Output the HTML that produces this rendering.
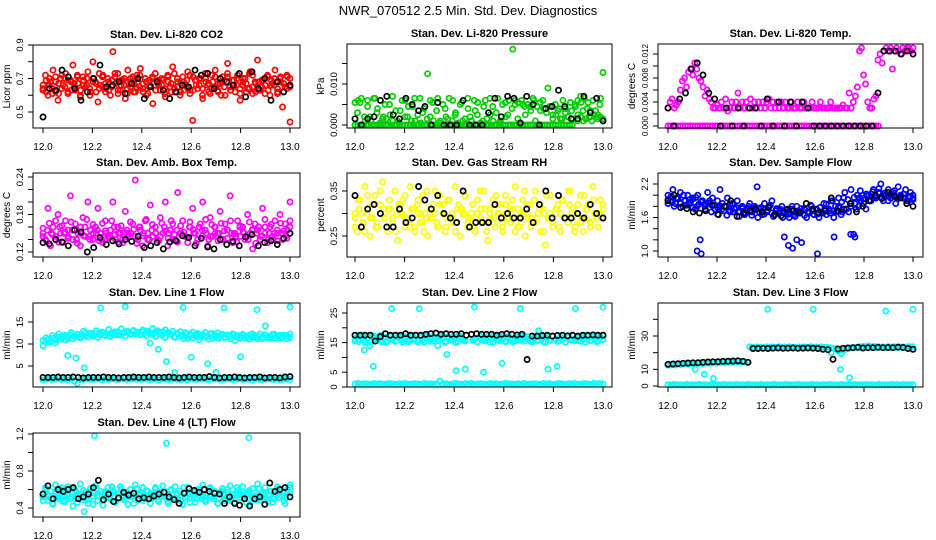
<!DOCTYPE html>
<html><head><meta charset="utf-8"><style>
html,body{margin:0;padding:0;background:#fff;}
svg{display:block;font-family:"Liberation Sans",sans-serif;}
</style></head><body>
<svg id="chart" width="936" height="540" viewBox="0 0 936 540">
<text x="468" y="15" text-anchor="middle" font-size="13">NWR_070512  2.5 Min. Std. Dev. Diagnostics</text>
</svg>
<script>
// ---------- data ----------
const xTicks = [12.0,12.2,12.4,12.6,12.8,13.0];
const xTickLabels = ["12.0","12.2","12.4","12.6","12.8","13.0"];

const co2Main = [.64,.72,.60,.68,.75,.62,.57,.70,.66,.73,.61,.69,.78,.63,.67,.59,.71,.65,.74,.62,.80,.68,.56,.66,.72,.64,.70,.60,.86,.67,.73,.63,.69,.58,.75,.65,.71,.62,.68,.76,.64,.70,.61,.66,.55,.73,.67,.63,.69,.59,.72,.65,.77,.62,.68,.60,.71,.66,.74,.63,.45,.69,.64,.70,.58,.73,.66,.61,.68,.75,.63,.67,.71,.60,.79,.65,.69,.62,.72,.57,.66,.70,.64,.74,.61,.68,.81,.63,.69,.66,.72,.60,.67,.75,.62,.70,.53,.65,.71,.44];
const co2Band = [.66,.62,.7,.64,.68,.61,.72,.65,.69,.63,.67,.71,.6,.66,.7,.64,.68,.62,.73,.65,.67,.63,.69,.71,.61,.66,.7,.64,.68,.62,.72,.65,.67,.6,.69,.71,.63,.66,.7,.64,.68,.62,.73,.65,.67,.63,.69,.61,.71,.66,.7,.64,.68,.62,.72,.65,.67,.6,.69,.71,.63,.66,.7,.64,.68,.62,.73,.65,.67,.63,.69,.61,.71,.66,.7,.64,.68,.62,.72,.65];
const co2Band2 = [.63,.69,.66,.61,.71,.67,.64,.7,.62,.68,.65,.72,.63,.69,.66,.6,.7,.67,.64,.71,.62,.68,.65,.73,.63,.69,.66,.61,.7,.67,.64,.72,.62,.68,.65,.7,.63,.69,.66,.61,.71,.67,.64,.7,.62,.68,.65,.72,.63,.69,.66,.6,.7,.67,.64,.71,.62,.68,.65,.73,.63,.69,.66,.61,.7,.67,.64,.72,.62,.68,.65,.7,.63,.69,.66,.61,.71,.67,.64,.7];
const co2Black = [.47,.64,.63,.75,.71,.64,.57,.62,.70,.78,.65,.66,.68,.61,.67,.70,.58,.65,.68,.63,.58,.62,.66,.65,.75,.72,.73,.64,.70,.68,.66,.73,.59,.74,.64,.70,.57,.68,.62,.66];

const pressMain = [0,.003,.0055,0,.001,.006,.002,0,.0065,.004,0,.0015,.005,0,.0025,.007,0,.001,.0035,0,.006,.002,0,.0045,.001,0,.0065,.003,0,.0125,.002,.0055,0,.0065,.001,0,.004,.0015,0,.006,.0025,0,.005,.001,0,.0065,.002,0,.0035,.0055,0,.001,.006,0,.0025,.0045,0,.0065,.001,0,.0055,.0025,0,.0185,.006,.0015,0,.005,.0025,0,.0045,.0065,.001,0,.0035,.006,.004,.009,.0045,.0025,.005,.0035,.0015,.006,.004,.002,.0055,.0015,.0045,.0025,.007,.0035,.0015,.0055,.002,.006,.0035,.0025,.0065,.0128];
const pressBand = [.0055,.006,.0065,.002,.0045,.001,.0065,.003,.0005,.002,.0015,.005,.001,.0035,.0005,.006,.002,.0045,.001,.0065,.0025,.0005,.004,.0015,.006,.001,.0035,.0005,.005,.002,.0065,.001,.003,.0005,.0055,.0015,.004,.001,.006,.0025,.0005,.0045,.0015,.0065,.001,.003,.0005,.005,.002,.006,.004,.005,.0055,.006,.0045,.005,.0035,.006,.0045,.0055,.004,.003,.0045,.0015,.0025,.004,.0015,.003,.002,.0035,.005,.006,.0055,.0065,.004,.0035,.0025,.002,.005,.0015];
const pressZero = [0,0,0,0,0,0,0,0,0,0,0,0,0,0,0,0,0,0,0,0,0,0,0,0,0,0,0,0,0,0,0,0,0,0,0,0,0,0,0,0,0,0,0,0,0,0,0,0,0,0,0,0,0,0,0,0,0,0,0,0,0,0,0,0,0,0,0,0,0,0,0,0,0,0,0,0,0,0,0,null,.001,.002,.001,.0015,.002,.001,.0025,.0015,.002,.001];
const pressBlack = [.0015,0,.0015,.002,.006,.007,.0025,.0015,.0065,.005,.0035,.0045,0,.0055,0,0,0,.006,0,0,0,.003,.0065,.002,.007,.0065,.0005,.007,.005,0,.004,.0045,.0085,.0045,.0015,.0015,.007,.003,.0065,.001];

const tempMain = [.003,.004,.0045,.003,.0035,.004,.006,.0075,.008,.0065,.009,.0095,.0085,.0105,.0095,.008,.0075,.0065,.005,.006,.0045,.004,.003,.003,.0035,.003,.004,.003,.0045,.0025,.003,.004,.003,.004,.0055,.003,.004,.003,.004,.003,.0045,.003,.004,.003,.004,.003,.004,.003,.004,.0045,.003,.004,.003,.004,.003,.004,.003,.004,.003,.003,.004,.003,.003,.004,.003,.003,.004,.003,.003,.003,.004,.003,.003,.003,.004,.003,.003,.003,.003,.004,.003,.003,.003,.003,.003,.0035,.003,.003,.0055,.003,.004,.005,.0065,.0125,.013,.0085,.007,.004,.003,.003,.0045,.005,.011,.012,.0105,.0125,.013,.0125,.013,.0095,.0125,.013,.0125,.012,.013,.0125,.013,.013,.0125,.013];
const tempZero = [0,0,0,0,0,0,0,0,0,0,0,0,0,0,0,0,0,0,0,0,0,0,0,0,0,0,0,0,0,0,0,0,0,0,0,0,0,0,0,0,0,0,0,0,0,0,0,0,0,0,0,0,0,0,0,0,0,0,0,0,0,0,0,0,0,0,0,0,0,0,0,0,0,0,0,0,0,0,0,0,0,0,0,0,0,0,null,null,null,null,null,null,null,null,null,null,null,null,null,null];
const tempBlack = [.003,0,.0045,.0055,.0095,.0105,.0085,.0055,.0045,0,.003,0,.003,0,.003,.003,0,.0045,0,.004,0,.004,0,.004,.003,0,0,0,0,0,0,0,0,0,0,0,.0055,.0125,.0125,.0125,.012,.0125,.012];

const ambMain = [.15,.14,.19,.13,.16,.145,.18,.15,.135,.17,.155,.21,.14,.165,.15,.13,.175,.145,.2,.155,.14,.16,.19,.15,.135,.17,.145,.155,.2,.14,.16,.15,.135,.185,.15,.145,.165,.235,.14,.155,.13,.17,.15,.195,.145,.16,.14,.175,.15,.2,.13,.155,.165,.14,.215,.15,.17,.145,.135,.16,.19,.15,.14,.165,.2,.155,.13,.175,.145,.16,.15,.185,.14,.165,.155,.21,.135,.15,.17,.145,.16,.14,.18,.15,.125,.165,.155,.14,.19,.15,.135,.16,.145,.17,.15,.18,.14,.165,.155,.2];
const ambBand = [.145,.155,.15,.14,.16,.15,.145,.155,.14,.15,.16,.145,.15,.155,.14,.15,.145,.16,.15,.14,.155,.15,.145,.16,.15,.14,.155,.15,.145,.16,.15,.14,.155,.15,.145,.16,.15,.14,.155,.15,.145,.16,.15,.14,.155,.15,.145,.16,.15,.14,.155,.15,.145,.16,.15,.14,.155,.15,.145,.16];
const ambBand2 = [.158,.138,.166,.148,.17,.136,.162,.152,.142,.168,.156,.134,.16,.146,.172,.14,.164,.15,.138,.166,.154,.142,.17,.148,.136,.162,.152,.144,.168,.156,.134,.16,.146,.172,.14,.164,.15,.138,.166,.154,.142,.17,.148,.136,.162,.152,.144,.168,.156,.134,.16,.146,.172,.14,.164,.15,.138,.166,.154,.142,.17,.148,.136,.162,.152,.144,.168,.156,.134,.16,.146,.172,.14,.164,.15,.138,.166,.154,.142,.17];
const ambBlack = [.135,.133,.14,.136,.13,.155,.152,.12,.127,.143,.132,.138,.133,.14,.137,.145,.127,.13,.135,.125,.136,.138,.146,.143,.13,.142,.128,.125,.14,.132,.137,.13,.144,.148,.13,.135,.138,.132,.142,.15];

const rhMain = [.3,.26,.33,.28,.36,.31,.25,.29,.34,.27,.32,.37,.3,.26,.31,.28,.35,.24,.3,.33,.27,.29,.36,.31,.26,.32,.28,.34,.3,.25,.31,.29,.35,.27,.32,.3,.26,.33,.29,.28,.36,.31,.25,.3,.34,.27,.29,.32,.26,.3,.35,.28,.31,.24,.29,.33,.27,.3,.32,.26,.34,.29,.28,.31,.36,.27,.3,.33,.25,.29,.32,.28,.35,.3,.26,.31,.23,.29,.34,.27,.3,.32,.26,.33,.29,.28,.35,.31,.27,.3,.34,.26,.29,.32,.28,.36,.3,.27,.33,.31];
const rhBand = [.29,.31,.28,.3,.32,.27,.3,.29,.31,.28,.3,.32,.29,.27,.31,.3,.28,.29,.31,.3,.27,.32,.29,.3,.28,.31,.3,.29,.27,.3,.31,.28,.3,.29,.32,.28,.3,.31,.29,.27,.3,.32,.29,.28,.31,.3,.29,.28,.31,.3,.29,.32,.28,.3,.29,.31,.28,.3,.3,.29];
const rhBand2 = [.27,.33,.3,.26,.34,.29,.32,.28,.35,.31,.27,.33,.29,.26,.32,.3,.34,.28,.31,.27,.33,.3,.26,.35,.29,.32,.28,.34,.3,.27,.33,.29,.26,.32,.31,.34,.28,.3,.27,.33,.29,.35,.26,.31,.28,.34,.3,.27,.32,.29,.33,.26,.31,.28,.35,.3,.27,.33,.29,.32,.26,.34,.3,.28,.31,.27,.33,.29,.35,.3,.26,.32,.28,.34,.31,.27,.33,.29,.3,.32];
const rhBlack = [.34,.27,.31,.32,.30,.27,.27,.31,.28,.29,.36,.33,.31,.34,.30,.29,.28,.35,.27,.28,.28,.28,.32,.29,.30,.29,.29,.31,.28,.32,.35,.29,.34,.29,.29,.30,.29,.32,.30,.29];

const flowMain = [2.0,1.9,2.1,1.85,1.95,2.05,1.8,1.9,2.0,1.85,1.95,1.75,2.0,1.2,1.9,1.8,2.05,1.85,1.95,1.75,1.9,2.1,1.85,1.8,1.95,1.7,1.85,1.75,1.9,1.7,1.8,1.65,1.75,1.85,1.7,1.8,2.15,1.75,1.65,1.85,1.7,1.8,1.9,1.65,1.75,1.7,1.8,1.25,1.7,1.6,1.75,1.65,1.8,1.7,1.15,1.75,1.6,1.7,1.8,1.65,1.75,1.6,1.7,1.85,1.65,1.75,1.9,1.6,1.7,1.8,1.65,1.95,1.75,1.7,1.85,1.3,1.75,1.8,1.9,1.85,1.75,2.0,1.9,2.1,1.95,2.05,2.2,1.9,2.0,2.1,1.95,2.05,1.85,2.15,2.0,1.95,2.1,1.9,2.05,2.0];
const flowBand = [1.92,1.88,1.95,1.85,1.9,1.87,1.93,1.8,1.88,1.85,1.9,1.82,1.78,1.75,1.8,1.72,1.76,1.7,1.78,1.74,1.72,1.77,1.7,1.75,1.73,1.68,1.72,1.75,1.7,1.66,1.72,1.68,1.7,1.74,1.68,1.72,1.66,1.7,1.75,1.68,1.72,1.78,1.7,1.75,1.8,1.85,1.95,2.0,1.98,2.02,1.95,2.05,2.0,1.98,2.02,1.97,2.0,1.95,1.98,1.95];
const flowBand2 = [1.85,1.98,1.8,1.95,1.86,2.0,1.82,1.92,1.78,1.96,1.84,1.9,1.75,1.86,1.7,1.82,1.66,1.8,1.72,1.64,1.84,1.7,1.78,1.62,1.76,1.68,1.8,1.64,1.74,1.6,1.78,1.66,1.72,1.82,1.62,1.76,1.68,1.6,1.74,1.66,1.8,1.62,1.72,1.76,1.64,1.7,1.82,1.66,1.74,1.78,1.68,1.84,1.72,1.9,1.8,1.95,1.88,2.05,1.92,2.1,1.96,2.0,2.08,1.94,2.02,1.9,2.06,1.98,2.12,1.94,2.04,1.9,2.0,2.08,1.94,1.98,2.02,1.9,1.96,1.92];
const flowLow = [null,null,null,null,null,null,null,1.0,0.95,null,null,null,null,null,null,null,null,null,null,null,null,null,null,null,null,null,null,null,null,1.1,1.05,1.2,null,null,null,null,0.95,null,null,null,1.25,null,null,null,1.3,1.25,null,null,null,null,null,null,null,null,null,null,null,null,null,null];
const flowBlack = [1.9,2.0,1.78,1.76,1.7,1.68,1.72,1.82,1.65,1.8,1.9,1.62,1.68,1.72,1.75,1.7,1.78,1.65,1.63,1.75,1.72,1.68,1.85,1.75,1.68,1.72,1.95,1.72,1.75,1.85,1.7,1.8,1.9,2.0,1.95,2.05,1.98,1.95,1.85,1.8];

const l1Upper = [9.6,10.5,11,10.8,11.3,10.2,11.6,11.1,11.8,10.9,11.5,12,11.2,11.7,12.2,11.4,11.9,12.5,11.6,12.1,11.8,12.4,11.5,12.2,12.6,11.9,12.3,11.7,12.5,12.1,12.8,12,12.4,11.8,12.6,12.2,12.9,12.3,12.7,12.1,13.2,12.5,12.9,12.3,13.5,12.7,13,12.4,12.8,13.2,12.6,12.2,12.9,11.5,12.4,12.8,12,12.6,11.3,12.2,12.7,11.9,12.4,11.6,12.1,12.6,11.8,12.3,11.4,12,12.5,11.7,12.2,11.5,12,11.8,12.3,10.8,11.9,11.6,12.2,11.3,11.8,12.1,11.5,11.9,11.2,12.3,11.6,12,11.4,11.8,12.2,11.3,11.7,12,11.5,11.9,11.2,12.3];
const l1Upper2 = [10.8,11.4,10.4,11.9,11,12.3,11.5,12,11.2,12.6,11.8,12.2,11.6,12.9,12,12.5,11.9,13,12.2,12.7,12,13.3,12.4,12.8,12.1,13.4,12.6,12.9,12.3,13.1,12.5,12.1,12.8,11.9,12.6,12.2,11.7,12.7,12,11.5,12.5,12.1,11.6,12.4,11.8,11.2,12.3,11.9,11.4,12.2,11,12,11.6,11.1,12.4,11.7,11.3,12.1,11.5,11.9,11.2,12.2,11.6,11.3,12,11.7,11.1,12.3,11.5,11.8,11.2,12.1,11.6,11.4,12.2,11.7,11.3,12,11.8,11.5];
const l1Lower = [1.8,2,2.1,1.9,2,2.2,1.9,2,1.8,2.1,1.6,1,2,1.9,2.1,2,1.9,2,2.1,1.8,2,1.9,2.1,2,1.9,2,2.2,1.9,2,2.1,2,1.9,2,2.1,1.9,2,2,1.8,2.1,2,1.9,2,2.1,2,1.9,2,1.8,2.1,2,1.9,2,2.1,2,1.9,2,2.1,2,1.9,2,2.1,2,1.9,2,2.1,1.9,2,2,1.8,2.1,2,1.9,2,2.1,2,1.9,2,1.8,2.1,2,1.9];
const l1Extra = [null,null,null,7.4,6.8,4.6,null,18.2,null,null,18.5,null,null,10.2,8.8,6,3.5,18.3,7,null,5.5,3.6,18.2,null,7.1,null,17.8,14.1,null,null,18.4];
const l1Black = [2.4,2.4,2.4,2.5,2.4,2.4,2.5,2.4,2.3,2.4,2.4,2.4,2.5,2.4,2.4,2.3,2.4,2.4,2.5,2.4,2.4,2.5,2.4,2.4,2.4,2.5,2.4,2.3,2.4,2.5,2.4,2.4,2.4,2.6,2.4,2.3,2.4,2.4,2.5,2.4,2.3,2.4,2.4,2.5,2.3,2.4,2.4,2.3,2.5,2.6];

const l2Upper = [15.5,17,16,17.5,15,16.5,14,17.2,15.8,16.6,17.4,15.2,16.8,15.6,17.1,16.2,15.4,17.3,16.4,15.1,17,16.1,15.7,17.4,16.3,15.2,16.9,15.9,17.2,16.5,15.4,17,16.2,15.6,17.3,16.4,15.1,16.8,15.8,17.1,16.6,15.3,17.2,16,15.5,null,null,15.9,16.4,15.2,17.1,16.2,15.6,17.2,16.5,15,16.9,15.8,17.3,16.1,15.5,17,16.4,15.2,16.8,15.9,17.2,16.3,15.5,17,16,15.3,16.8,15.7,17.1,16.4,15.2,16.9,15.8,17.2,16.1,15.4,17,16.5,15.1,16.8,15.9,17.3,16.2,15.6,17,16.4,15.2,16.9,15.8,17.1,16.3,15.5,16.8,16];
const l2Upper2 = [16.2,15.3,17.1,15.8,16.6,15.1,17.3,16,15.5,16.9,15.2,17,16.4,15.6,17.2,15.9,16.5,15.3,17.1,16.1,15.7,16.8,15.2,17.3,16.3,15.5,16.7,15.9,17,15.4,16.6,16,15.2,17.2,16.4,15.8,null,null,16.2,15.3,17,15.7,16.5,15.1,17.2,16,15.6,16.8,15.3,17.1,16.2,15.5,16.9,15.8,17.3,16.1,15.4,16.6,15.9,17,15.3,16.4,15.8,17.2,16,15.5,16.7,15.2,17.1,16.3,15.6,16.9,15.4,17,16.1,15.7,16.5,15.3,17.2,16];
const l2Lower = [1,1.2,0.9,1.1,1,0.9,1.2,1,1.1,0.9,1,1.2,1,0.9,1.1,1,1.2,0.9,1,1.1,1,0.9,1.2,1,1.1,0.9,1,2,1,1.1,0.9,1,1.2,1,0.9,1.1,1,1.2,0.9,1,1.1,1,0.9,1.2,1,1.1,0.9,1,1.2,1.1,1,0.9,1.1,1,1.2,0.9,1,1.1,1,0.9,1.2,1,1.1,0.9,1,1.2,1,0.9,1.1,1,1.2,0.9,1,1.1,1,0.9,1.2,1,1.1,1];
const l2Extra = [null,12.5,7,null,26.5,null,null,26.5,null,14,11,5.5,6,27,5,null,8,null,26.5,null,19,6,7,null,26.5,null,null,27];
const l2Black = [17.5,17.5,17.5,17.5,15.5,17,18,17.5,17.5,17.5,18,17.5,17.5,17.5,17.8,18,18.2,17.8,18,17.8,17.8,18,17.5,17.8,18,17.8,17.8,17.8,17.5,17.8,18,17.8,17.6,17.8,9.3,17.2,17.2,17.4,17.5,17.2,17.4,17.5,17.3,17.5,17.2,17.5,17.5,17.6,17.5,17.5];

const l3Upper = [12.5,12.8,13,12.6,13.2,12.9,13.1,13.4,13,13.3,13.6,13.2,13.5,13.8,13.4,13.7,14,13.6,13.9,14.2,13.8,14.1,14.4,14,14.3,14.6,14.2,14.5,14.8,14.4,14.7,14.5,14.2,23.5,23.2,23,23.4,23.1,23.3,23,23.5,23.2,23.4,23.1,23.3,23.6,23,23.4,23.2,23.5,23.1,23.3,23,23.4,23.2,23.5,23.1,23.3,23.6,23,23.4,23.2,23.5,23.1,23.3,23,22.8,22.5,22.3,21,19.5,21.5,22.6,22.8,23,22.9,23.2,23.5,23.4,23.8,23.6,24,23.5,23.8,23.4,23.6,23.2,23.5,23.3,23.6,23.2,23.5,23.4,23.6,23.3,23.5,23.2,23.6,23.4,23.5];
const l3Lower = [0.8,0.6,0.9,0.7,0.8,0.6,0.9,0.7,0.8,0.6,0.9,0.7,0.8,0.6,0.9,0.7,0.8,0.6,0.9,0.7,0.8,0.6,0.9,0.7,0.8,0.6,0.9,0.7,0.8,0.6,0.9,0.7,0.8,0.6,0.9,0.7,0.8,0.6,0.9,0.7,0.8,0.6,0.9,0.7,0.8,0.6,0.9,0.7,0.8,0.6,0.8,0.6,0.9,0.7,0.8,0.6,0.9,0.7,0.8,0.6,0.9,0.7,0.8,0.6,0.9,0.7,0.8,0.6,0.9,0.7,0.8,0.6,0.9,0.7,0.8,0.6,0.9,0.7,0.8,0.6];
const l3Extra = [null,null,null,10,7,4.5,null,null,null,null,null,46,null,null,null,null,46,null,20,10,5,null,null,null,45,null,null,46];
const l3Black = [13,13.2,13.4,13.6,13.8,13.9,14,14.2,14.4,14.5,14.6,14.8,14.9,15,15.1,14.8,14.2,22.5,22.5,22.6,22.5,22.7,22.8,22.6,22.7,22.8,22.6,22.7,22.8,22.7,22.5,22,21.8,16,22.2,22.6,22.8,23,23.2,22.8,23,23,23.2,23,23.1,23,23.3,23.1,22.5,22];

const l4Main = [.55,.62,.48,.58,.44,.65,.52,.6,.47,.56,.63,.5,.42,.59,.54,.66,.49,.57,.45,.61,.53,.64,.48,.58,.43,.56,.62,.5,.59,.46,.55,.63,.51,.57,.44,.6,.53,.65,.48,.56,.62,.5,.58,.45,.54,.61,.49,.57,.64,.52,.47,.59,.55,.63,.5,.58,.44,.56,.62,.51,.57,.46,.6,.53,.65,.49,.56,.62,.5,.58,.45,.55,.61,.48,.57,.64,.52,.46,.59,.54,.63,.5,.57,.44,.61,.53,.66,.49,.56,.62,.5,.58,.46,.55,.63,.51,.57,.45,.6,.65];
const l4Band = [.52,.55,.5,.56,.53,.49,.54,.57,.51,.55,.52,.5,.56,.53,.55,.51,.54,.57,.5,.53,.55,.52,.56,.5,.54,.53,.51,.55,.57,.52,.5,.54,.56,.53,.51,.55,.52,.57,.5,.54,.53,.56,.51,.55,.52,.5,.54,.56,.53,.55,.51,.53,.56,.5,.54,.52,.55,.53,.51,.56];
const l4Band2 = [.48,.6,.53,.45,.58,.5,.62,.47,.56,.52,.6,.46,.55,.59,.49,.57,.44,.61,.53,.48,.58,.51,.63,.46,.55,.6,.49,.57,.52,.45,.61,.54,.48,.59,.5,.56,.62,.47,.53,.58,.45,.6,.51,.55,.48,.62,.53,.46,.57,.5,.59,.54,.47,.61,.52,.56,.45,.58,.5,.6,.48,.55,.62,.51,.57,.46,.59,.53,.49,.61,.52,.56,.47,.58,.5,.6,.54,.48,.57,.62];
const l4Extra = [null,null,null,null,.36,1.18,null,null,null,null,null,null,1.1,null,null,null,null,null,null,null,1.16,null,null,null,null];
const l4Black = [.55,.64,.5,.6,.58,.6,.62,.5,.52,.55,.62,.7,.49,.55,.47,.51,.57,.54,.56,.5,.51,.5,.53,.55,.57,.52,.49,.45,.56,.61,.59,.57,.6,.58,.56,.55,.45,.52,.45,.43,.5,.42,.5,.52,.44,.67,.58,.6,.62,.52];

// ---------- drawing ----------
const NS = "http://www.w3.org/2000/svg";
const svg = document.getElementById("chart");
function mk(tag, attrs, parent){ const e=document.createElementNS(NS,tag); for(const k in attrs) e.setAttribute(k,attrs[k]); (parent||svg).appendChild(e); return e; }
function linMap(v1,p1,v2,p2){ return v => p1 + (v - v1) * (p2 - p1) / (v2 - v1); }

const panels = [
 {id:"co2",title:"Stan. Dev. Li-820 CO2",ylab:"Licor ppm",box:[33,45,300,128],x0:43,x1:290,yc:[.9,45,.5,112],ticks:[.5,.6,.7,.8,.9],labs:{0.5:"0.5",0.7:"0.7",0.9:"0.9"},series:[[co2Band,"#ff0000"],[co2Band2,"#ff0000"],[co2Main,"#ff0000"],[co2Black,"#000"]]},
 {id:"pressure",title:"Stan. Dev. Li-820 Pressure",ylab:"kPa",box:[347,44,612,128],x0:355,x1:603,yc:[0,125,.01,84],ticks:[0,.005,.01,.015],labs:{0:"0.000",0.01:"0.010"},series:[[pressZero,"#00cc00"],[pressBand,"#00cc00"],[pressMain,"#00cc00"],[pressBlack,"#000"]]},
 {id:"temp",title:"Stan. Dev. Li-820 Temp.",ylab:"degrees C",box:[658,44,923,128],x0:668,x1:913,yc:[0,126,.012,54],ticks:[0,.002,.004,.006,.008,.01,.012],labs:{0:"0.000",0.004:"0.004",0.008:"0.008",0.012:"0.012"},series:[[tempZero,"#ff00ff"],[tempMain,"#ff00ff"],[tempBlack,"#000"]]},
 {id:"amb",title:"Stan. Dev. Amb. Box Temp.",ylab:"degrees C",box:[33,173,300,257],x0:43,x1:290,yc:[.24,177,.12,252],ticks:[.12,.14,.16,.18,.2,.22,.24],labs:{0.12:"0.12",0.18:"0.18",0.24:"0.24"},series:[[ambBand,"#ff00ff"],[ambBand2,"#ff00ff"],[ambMain,"#ff00ff"],[ambBlack,"#000"]]},
 {id:"rh",title:"Stan. Dev. Gas Stream RH",ylab:"percent",box:[347,173,612,257],x0:355,x1:603,yc:[.35,191,.25,236],ticks:[.25,.3,.35],labs:{0.25:"0.25",0.35:"0.35"},series:[[rhBand,"#ffff00"],[rhBand2,"#ffff00"],[rhMain,"#ffff00"],[rhBlack,"#000"]]},
 {id:"flow",title:"Stan. Dev. Sample Flow",ylab:"ml/min",box:[658,173,923,257],x0:668,x1:913,yc:[2.2,184,1.0,251],ticks:[1.0,1.2,1.4,1.6,1.8,2.0,2.2],labs:{1:"1.0",1.6:"1.6",2.2:"2.2"},series:[[flowBand,"#0000ff"],[flowBand2,"#0000ff"],[flowMain,"#0000ff"],[flowLow,"#0000ff"],[flowBlack,"#000"]]},
 {id:"line1",title:"Stan. Dev. Line 1 Flow",ylab:"ml/min",box:[33,303,300,387],x0:43,x1:290,yc:[15,322,5,366],ticks:[5,10,15],labs:{5:"5",10:"10",15:"15"},series:[[l1Upper,"#00ffff"],[l1Upper2,"#00ffff"],[l1Lower,"#00ffff"],[l1Extra,"#00ffff"],[l1Black,"#000"]]},
 {id:"line2",title:"Stan. Dev. Line 2 Flow",ylab:"ml/min",box:[347,303,612,387],x0:355,x1:603,yc:[25,313,0,387],ticks:[0,5,10,15,20,25],labs:{0:"0",5:"5",15:"15",25:"25"},series:[[l2Upper,"#00ffff"],[l2Upper2,"#00ffff"],[l2Lower,"#00ffff"],[l2Extra,"#00ffff"],[l2Black,"#000"]]},
 {id:"line3",title:"Stan. Dev. Line 3 Flow",ylab:"ml/min",box:[658,303,923,387],x0:668,x1:913,yc:[30,336,0,386],ticks:[0,10,20,30,40],labs:{0:"0",10:"10",30:"30"},series:[[l3Upper,"#00ffff"],[l3Lower,"#00ffff"],[l3Extra,"#00ffff"],[l3Black,"#000"]]},
 {id:"line4",title:"Stan. Dev. Line 4 (LT) Flow",ylab:"ml/min",box:[33,433,300,517],x0:43,x1:290,yc:[1.2,434,.4,508],ticks:[.4,.6,.8,1.0,1.2],labs:{0.4:"0.4",0.8:"0.8",1.2:"1.2"},series:[[l4Band,"#00ffff"],[l4Band2,"#00ffff"],[l4Main,"#00ffff"],[l4Extra,"#00ffff"],[l4Black,"#000"]]}
];

panels.forEach(p => {
  const [L,T,R,B] = p.box;
  const xs = linMap(12, p.x0, 13, p.x1);
  const ys = linMap(p.yc[0], p.yc[1], p.yc[2], p.yc[3]);
  const g = mk("g", {});
  
  
  const t = mk("text", {x:(L+R)/2, y:T-7, "text-anchor":"middle", "font-size":"11", "font-weight":"bold"}, g);
  t.textContent = p.title;
  
  
  const pts = mk("g", {}, g);
  
  
  p.series.forEach(([arr, col]) => {
    const n = arr.length;
    const isBlack = col === "#000";
    arr.forEach((v, i) => {
      if (v === null) return;
      const xv = 12 + (n > 1 ? i / (n - 1) : 0);
      const c = mk("circle", {cx:xs(xv).toFixed(1), cy:ys(v).toFixed(1), r:"2.6", fill:"none", stroke:col, "stroke-width": isBlack ? "1.7" : "1.7"}, pts);
      
      
    });
  });
  const bx = mk("rect", {x:L, y:T, width:R-L, height:B-T, fill:"none", stroke:"#000", "stroke-width":"1"}, g);
  
  
  const xa = mk("g", {}, g);
  
  
  xTicks.forEach((tv, i) => {
    const x = xs(tv);
    mk("line", {x1:x, y1:B, x2:x, y2:B+5, stroke:"#000"}, xa);
    const lt = mk("text", {x:x, y:B+22, "text-anchor":"middle", "font-size":"10"}, xa);
    lt.textContent = xTickLabels[i];
  });
  const ya = mk("g", {}, g);
  
  
  const fs = p.id === "temp" ? "8" : "9.5";
  p.ticks.forEach(tv => {
    const y = ys(tv);
    mk("line", {x1:L-5, y1:y, x2:L, y2:y, stroke:"#000"}, ya);
    const key = Object.keys(p.labs).find(k => Math.abs(parseFloat(k) - tv) < 1e-9);
    if (key !== undefined) {
      const lt = mk("text", {x:L-10, y:y, "text-anchor":"middle", "font-size":fs, transform:`rotate(-90 ${L-10} ${y})`}, ya);
      lt.textContent = p.labs[key];
    }
  });
  const yl = mk("text", {x:L-23, y:(T+B)/2, "text-anchor":"middle", "font-size":"10", transform:`rotate(-90 ${L-23} ${(T+B)/2})`}, g);
  yl.textContent = p.ylab;
  
  
});
</script>
</body></html>
